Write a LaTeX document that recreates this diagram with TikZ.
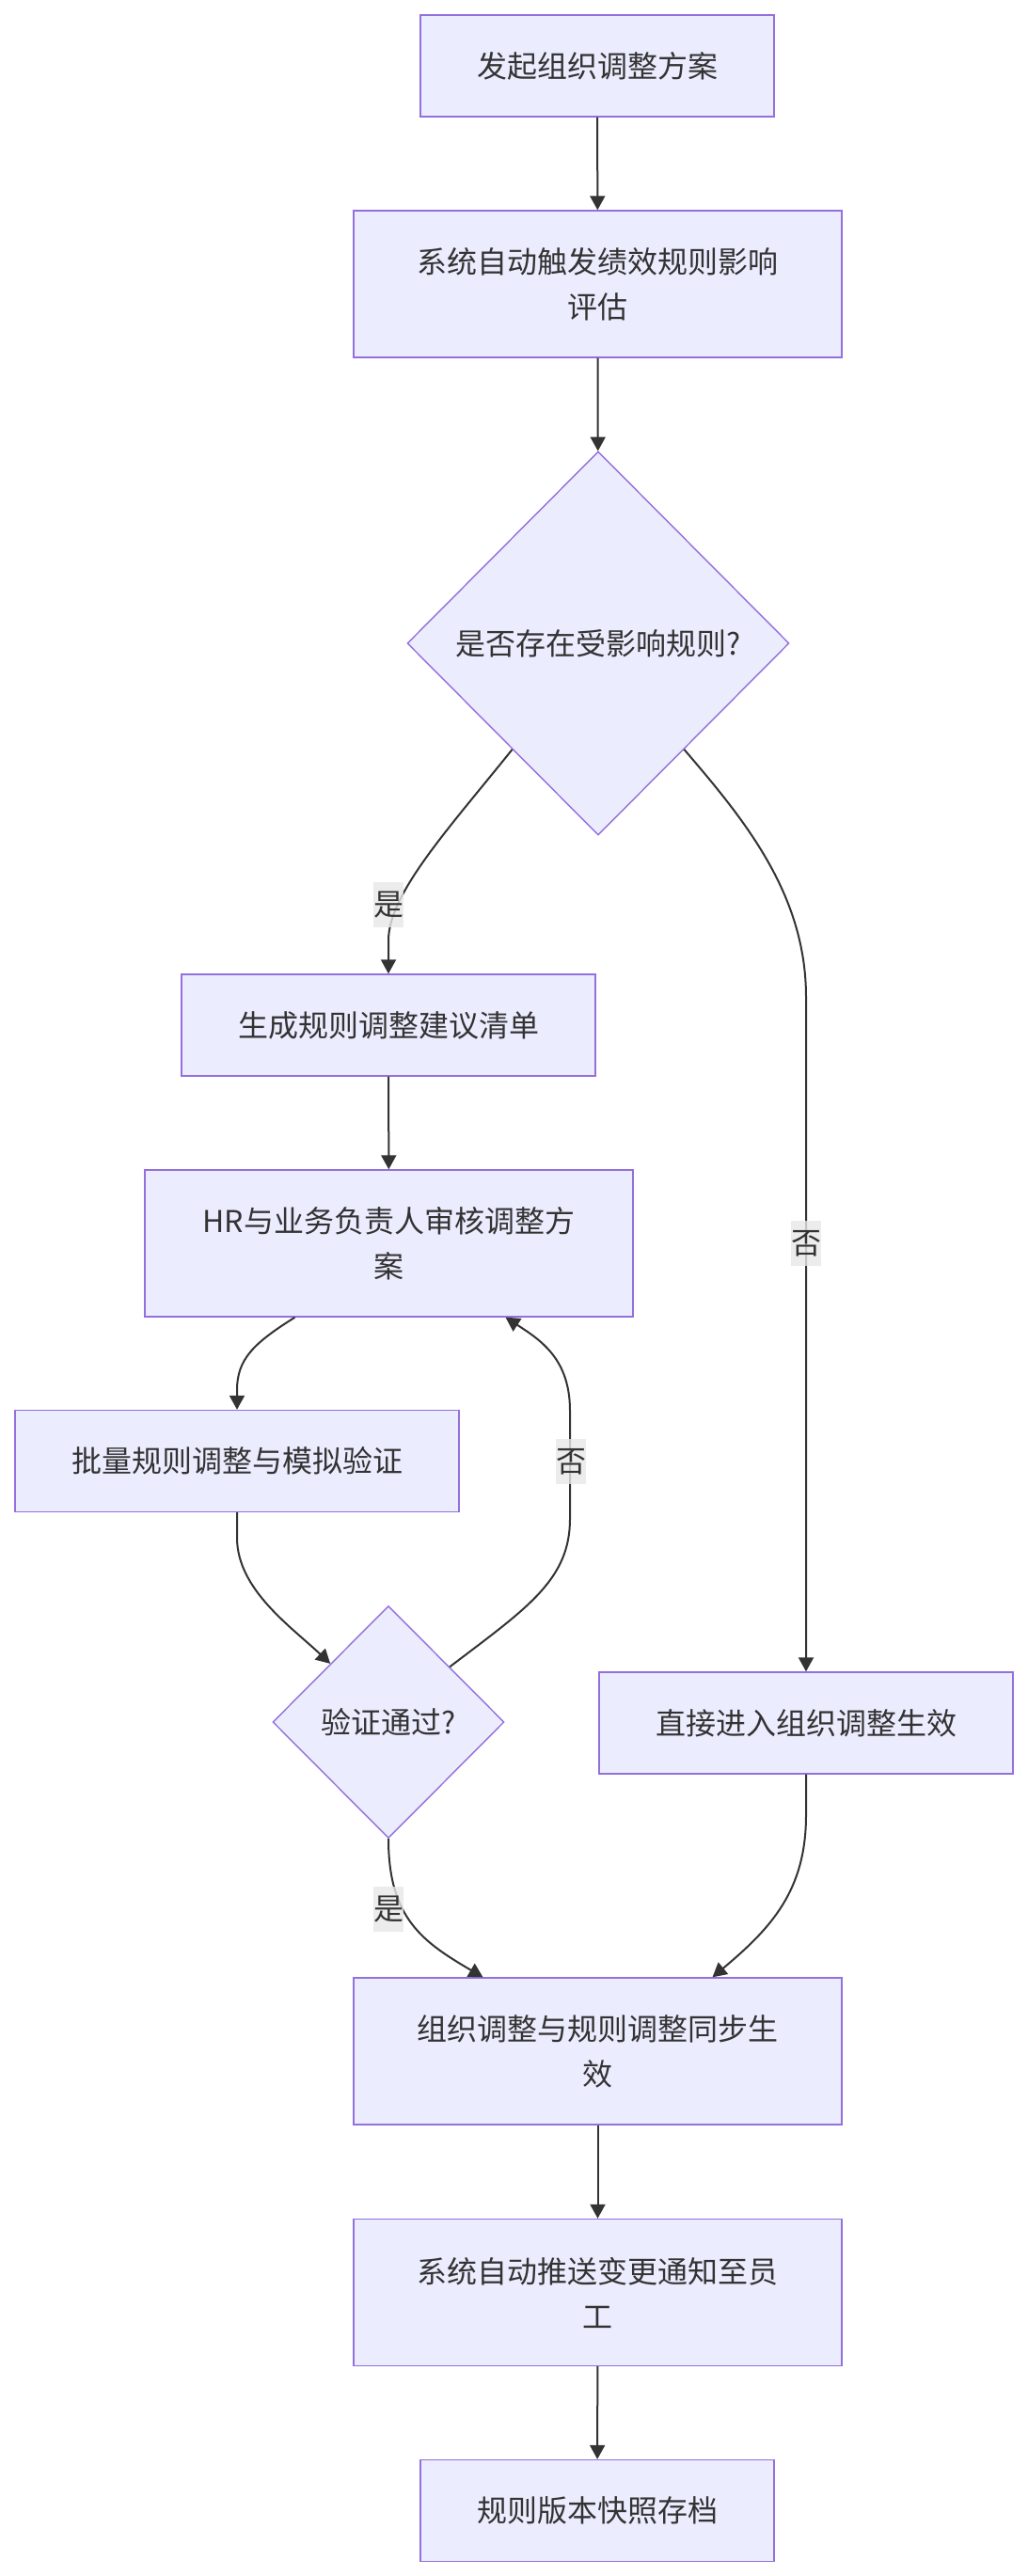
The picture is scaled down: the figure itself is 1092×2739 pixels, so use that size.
\documentclass[tikz,border=0pt]{standalone}
\usepackage{fontspec}
\newfontfamily\cjk{Noto Sans CJK SC}
\usepackage{tikz}
\usetikzlibrary{shapes.geometric, arrows.meta, positioning, calc}
\definecolor{nodefill}{HTML}{ECECFF}
\definecolor{nodeline}{HTML}{9370DB}
\definecolor{txtgray}{HTML}{333333}
\definecolor{lblfill}{HTML}{E8E8E8}

\begin{document}
\begin{tikzpicture}[
    x=0.5pt, y=-0.5pt,
    box/.style={rectangle, draw=nodeline, line width=0.7pt, fill=nodefill, text=txtgray, font=\cjk\fontsize{16}{24}\selectfont, align=center, inner sep=0pt},
    decision/.style={diamond, draw=nodeline, line width=0.7pt, fill=nodefill, text=txtgray, font=\cjk\fontsize{16}{24}\selectfont, align=center, inner sep=0pt},
    arrow/.style={-{Triangle[length=7.5pt, width=8pt]}, line width=1pt, draw=txtgray},
    elabel/.style={fill=lblfill, fill opacity=0.8, text opacity=1, text=txtgray, font=\cjk\fontsize{16}{24}\selectfont, inner sep=0pt, minimum width=16pt, minimum height=24pt}
]
\path[fill=white, use as bounding box] (0,0) rectangle (1092,2739);

% Nodes
\node[box, minimum width=188pt, minimum height=54pt] (start) at (635,70) {发起组织调整方案};
\node[box, minimum width=259.5pt, minimum height=78pt] (eval) at (635.5,302) {系统自动触发绩效规则影响\\评估};
\node[decision, minimum width=203pt, minimum height=204pt] (hasrule) at (636,684) {是否存在受影响规则?};
\node[box, minimum width=220pt, minimum height=54pt] (suggest) at (413,1090) {生成规则调整建议清单};
\node[box, minimum width=259.5pt, minimum height=78pt] (review) at (413.5,1322) {HR与业务负责人审核调整方\\案};
\node[box, minimum width=236pt, minimum height=54pt] (batch) at (252,1553.5) {批量规则调整与模拟验证};
\node[decision, minimum width=123pt, minimum height=123.5pt] (passed) at (413,1831) {验证通过?};
\node[box, minimum width=220pt, minimum height=54pt] (direct) at (857,1832) {直接进入组织调整生效};
\node[box, minimum width=259.5pt, minimum height=78pt] (sync) at (635.5,2181) {组织调整与规则调整同步生\\效};
\node[box, minimum width=259.5pt, minimum height=78pt] (notify) at (635.5,2437.5) {系统自动推送变更通知至员\\工};
\node[box, minimum width=188pt, minimum height=54pt] (archive) at (635,2669.5) {规则版本快照存档};

% Edges
\draw[arrow] (start) -- (eval);
\draw[arrow] (eval) -- (hasrule);
\draw[arrow] (hasrule.231) .. controls (478,880) and (413,950) .. (413,1000) -- (suggest.north);
\draw[arrow] (hasrule.-51) .. controls (790,870) and (857,950) .. (857,1060) -- (direct.north);
\draw[arrow] (suggest) -- (review);
\draw[arrow] ([xshift=-50pt]review.south) .. controls (270,1428) and (252,1445) .. (252,1478) -- (batch.north);
\draw[arrow] (batch) -- (252,1635) .. controls (252,1690) and (310,1730) .. (passed.north west);
\draw[arrow] (passed.42) .. controls (560,1710) and (606,1680) .. (606,1615) -- (606,1500) .. controls (606,1445) and (575,1425) .. ([xshift=62pt]review.south);
\draw[arrow] (passed.south) .. controls (413,2040) and (450,2065) .. ([xshift=-61pt]sync.north);
\draw[arrow] (direct) -- (857,1930) .. controls (857,2010) and (820,2050) .. ([xshift=61pt]sync.north);
\draw[arrow] (sync) -- (notify);
\draw[arrow] (notify) -- (archive);

% Edge labels
\node[elabel] (yes1) at (413,962) {是};
\node[elabel] (no1) at (857,1322) {否};
\node[elabel] (no2) at (607,1554) {否};
\node[elabel] (yes2) at (413,2030) {是};

\end{tikzpicture}
\end{document}
